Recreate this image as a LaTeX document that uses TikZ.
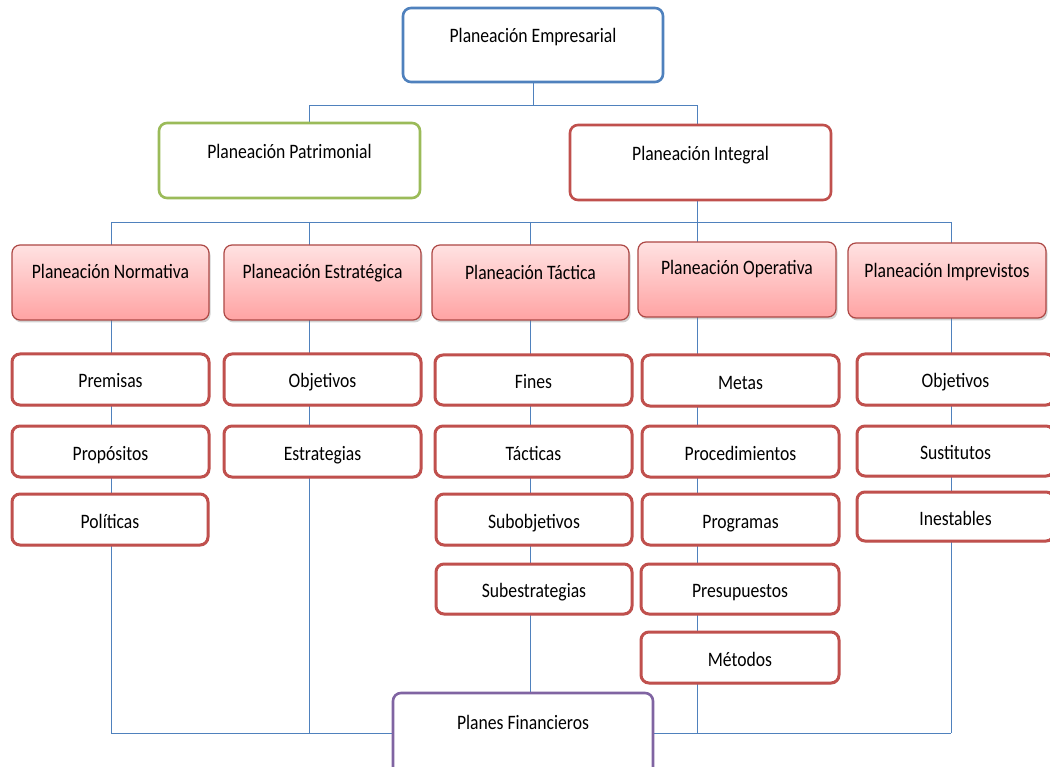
\documentclass[tikz,border=0pt]{standalone}
\usepackage{fontspec}
\setmainfont{Carlito}[FakeStretch=0.86]
\usetikzlibrary{shadows}
\definecolor{cblue}{HTML}{4F81BD}
\definecolor{cred}{HTML}{C0504D}
\definecolor{cgreen}{HTML}{9BBB59}
\definecolor{cpurple}{HTML}{8064A2}
\definecolor{pinktop}{HTML}{FFE2E2}
\definecolor{pinkbot}{HTML}{FFA3A3}
\pgfdeclarelayer{paper}
\pgfdeclarelayer{background}
\pgfsetlayers{paper,background,main}
\tikzset{
  base/.style={rounded corners=8pt, font=\fontsize{20.5}{24}\selectfont, text=black, inner sep=0pt, text height=14pt},
  topbox/.style={base, draw=cblue, line width=2.6pt, fill=white},
  greenbox/.style={base, draw=cgreen, line width=2.6pt, fill=white},
  redbox/.style={base, draw=cred, line width=2.6pt, fill=white},
  purplebox/.style={base, draw=cpurple, line width=2.6pt, fill=white},
  pinkbox/.style={base, draw=cred!90!black, line width=1.2pt, top color=pinktop, bottom color=pinkbot,
     drop shadow={shadow xshift=1.5pt, shadow yshift=-2.5pt, opacity=0.35}},
  itembox/.style={base, text height=18pt, draw=cred, line width=3pt, fill=white,
     drop shadow={shadow xshift=1pt, shadow yshift=-1.5pt, opacity=0.2}},
  conn/.style={draw=cblue, line width=0.9pt}
}
% \bx{name}{style}{x1}{y1}{x2}{y2}{text shift up}{text}
\newcommand\bx[8]{%
  \pgfmathsetmacro\bxw{#5-#3}%
  \pgfmathsetmacro\bxh{#6-#4}%
  \pgfmathsetmacro\bxcx{(#3+#5)/2}%
  \pgfmathsetmacro\bxcy{(#4+#6)/2}%
  \pgfmathsetmacro\bxd{1+2*#7}%
  \node[#2, minimum width=\bxw pt, minimum height=\bxh pt, text depth=\bxd pt] (#1) at (\bxcx,\bxcy) {#8};%
}
\begin{document}
\begin{tikzpicture}[x=1pt,y=-1pt]
\clip (0,0) rectangle (1050,767);
\begin{pgfonlayer}{paper}
\fill[white] (0,0) rectangle (1050,767);
\end{pgfonlayer}

\bx{top}{topbox}{403}{8}{663}{82}{9}{Planeación Empresarial}
\bx{pat}{greenbox}{159}{123}{420}{198}{8.5}{Planeación Patrimonial}
\bx{int}{redbox}{570}{125}{831}{200}{8.5}{Planeación Integral}

\bx{nor}{pinkbox}{12}{245}{209}{320}{10.5}{Planeación Normativa}
\bx{est}{pinkbox}{224}{245}{421}{320}{10.5}{Planeación Estratégica}
\bx{tac}{pinkbox}{432}{245}{629}{320}{9.5}{Planeación Táctica}
\bx{ope}{pinkbox}{638}{242}{836}{317}{11.5}{Planeación Operativa}
\bx{imp}{pinkbox}{848}{243}{1046}{318}{9.5}{Planeación Imprevistos}

\bx{prem}{itembox}{12}{354}{209}{405}{0}{Premisas}
\bx{obja}{itembox}{224}{354}{421}{405}{0}{Objetivos}
\bx{fine}{itembox}{435}{355}{632}{405}{0}{Fines}
\bx{meta}{itembox}{642}{355}{839}{406}{0}{Metas}
\bx{objb}{itembox}{857}{354}{1054}{405}{0}{Objetivos}

\bx{prop}{itembox}{12}{426}{209}{477}{0}{Propósitos}
\bx{estr}{itembox}{224}{426}{421}{477}{0}{Estrategias}
\bx{tact}{itembox}{435}{426}{632}{477}{0}{Tácticas}
\bx{proc}{itembox}{642}{426}{839}{477}{0}{Procedimientos}
\bx{sust}{itembox}{857}{426}{1054}{476}{0}{Sustitutos}

\bx{poli}{itembox}{12}{494}{208}{545}{0}{Políticas}
\bx{subo}{itembox}{436}{494}{632}{545}{0}{Subobjetivos}
\bx{prog}{itembox}{642}{494}{839}{545}{0}{Programas}
\bx{ines}{itembox}{857}{492}{1054}{541}{0}{Inestables}

\bx{sube}{itembox}{436}{564}{632}{614}{0}{Subestrategias}
\bx{pres}{itembox}{641}{564}{839}{614}{0}{Presupuestos}
\bx{meto}{itembox}{641}{632}{839}{683}{0}{Métodos}

\bx{plan}{purplebox}{393}{693}{653}{790}{18.5}{Planes Financieros}

\coordinate (j1) at (309,105);
\coordinate (j2) at (697,105);
\coordinate (k1) at (111,222);
\coordinate (k2) at (309,222);
\coordinate (k3) at (530,222);
\coordinate (k4) at (697,222);
\coordinate (k5) at (951,222);
\coordinate (b1) at (111,733);
\coordinate (b2) at (309,733);
\coordinate (b4) at (697,733);
\coordinate (b5) at (951,733);

\begin{pgfonlayer}{background}
\draw[conn] (top.south) -- (top.south |- j1);
\draw[conn] (j1 |- pat.north) -- (j1) -- (j2) -- (j2 |- int.north);
\draw[conn] (j2 |- int.south) -- (k4);
\draw[conn] (k1) -- (k5);
\draw[conn] (k1) -- (b1);
\draw[conn] (k2) -- (b2);
\draw[conn] (k3) -- (k3 |- plan.north);
\draw[conn] (k4) -- (b4);
\draw[conn] (k5) -- (b5);
\draw[conn] (b1) -- (b5);
\end{pgfonlayer}
\end{tikzpicture}
\end{document}
